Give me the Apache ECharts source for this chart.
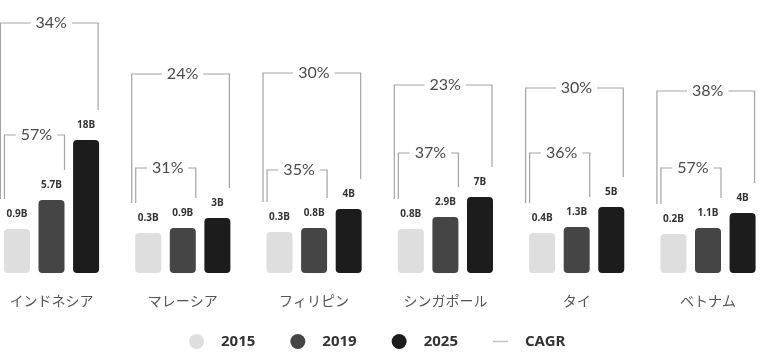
<!DOCTYPE html>
<html>
<head>
<meta charset="utf-8">
<script src="https://cdn.jsdelivr.net/npm/echarts@6/dist/echarts.min.js"></script>
<style>
  html, body { margin: 0; padding: 0; background: #fff; }
  #chart { width: 765px; height: 352px; }
</style>
</head>
<body>
<div id="chart"></div>
<script>
var countries = ['インドネシア', 'マレーシア', 'フィリピン', 'シンガポール', 'タイ', 'ベトナム'];

// market size labels (B)
var val2015 = ['0.9', '0.3', '0.3', '0.8', '0.4', '0.2'];
var val2019 = ['5.7', '0.9', '0.8', '2.9', '1.3', '1.1'];
var val2025 = ['18', '3', '4', '7', '5', '4'];

// bar heights as drawn in the picture (stylised index, not to scale)
var h2015 = [44, 40, 41, 44, 40, 39];
var h2019 = [73, 45, 45, 56, 46, 45];
var h2025 = [133, 55, 64, 76, 66, 60];

// CAGR brackets: 2015->2025 and 2015->2019, with the level each bracket sits at
var cagrLong = ['34%', '24%', '30%', '23%', '30%', '38%'];
var cagrShort = ['57%', '31%', '35%', '37%', '36%', '57%'];
var levelLong = [250, 199, 200, 188, 185, 182];
var levelShort = [138, 105, 103, 120, 120, 105];

var BAR_W = 26;
var BAR_GAP = 0.33;
var LEG_GAP = 30;

function barLabel(vals) {
  return {
    show: true,
    position: 'top',
    distance: 10,
    fontSize: 10,
    fontWeight: 'bold',
    fontFamily: 'Noto Sans',
    color: '#333',
    formatter: function (p) { return vals[p.dataIndex] + 'B'; }
  };
}

function renderBracket(params, api) {
  var i = params.dataIndex;
  var cx = api.coord([api.value(0), 0])[0];
  var step = BAR_W * (1 + BAR_GAP);
  var left1 = cx - (BAR_W * 3 + BAR_W * BAR_GAP * 2) / 2;
  var right2 = left1 + step + BAR_W;
  var right3 = left1 + 2 * step + BAR_W;
  var top1 = api.coord([i, h2015[i]])[1] - LEG_GAP;
  var top2 = api.coord([i, h2019[i]])[1] - LEG_GAP;
  var top3 = api.coord([i, h2025[i]])[1] - LEG_GAP;
  var yLong = api.coord([i, api.value(1)])[1];
  var yShort = api.coord([i, api.value(2)])[1];
  var lineStyle = { stroke: '#a4a4a4', lineWidth: 1.2, fill: null };
  var oL = left1 - 3.5, oR = right3 - 1;
  var iL = left1 + 0.5, iR = right2;
  function txt(t, x, y) {
    return {
      type: 'text',
      z2: 10,
      style: {
        text: t, x: x, y: y, align: 'center', verticalAlign: 'middle',
        fontSize: 16, fontFamily: 'Lato', fill: '#4a4a4a',
        backgroundColor: '#fff', padding: [0, 5]
      }
    };
  }
  return {
    type: 'group',
    children: [
      { type: 'polyline', shape: { points: [[oL, top1], [oL, yLong], [oR, yLong], [oR, top3]] }, style: lineStyle },
      { type: 'polyline', shape: { points: [[iL, top1], [iL, yShort], [iR, yShort], [iR, top2]] }, style: lineStyle },
      txt(cagrLong[i], (oL + oR) / 2 + 2, yLong),
      txt(cagrShort[i], (iL + iR) / 2 + 2, yShort)
    ]
  };
}

var bracketData = countries.map(function (c, i) { return [i, levelLong[i], levelShort[i]]; });

var chart = echarts.init(document.getElementById('chart'));
chart.setOption({
  animation: false,
  backgroundColor: '#fff',
  grid: { left: 51.5, right: 57, top: 13, bottom: 79 },
  legend: {
    left: 184,
    top: 329,
    itemWidth: 15,
    itemHeight: 15,
    itemGap: 35,
    textStyle: { fontSize: 15, fontWeight: 'bold', fontFamily: 'Noto Sans', color: '#333', padding: [0, 0, 0, 12] },
    data: [
      { name: '2015', icon: 'circle' },
      { name: '2019', icon: 'circle' },
      { name: '2025', icon: 'circle' },
      { name: 'CAGR', icon: 'path://M0 0H16V1.6H0Z' }
    ]
  },
  xAxis: {
    type: 'category',
    data: countries,
    boundaryGap: false,
    axisLine: { show: false },
    axisTick: { show: false },
    axisLabel: { margin: 21, fontSize: 14, color: '#555', fontFamily: 'Noto Sans CJK JP' }
  },
  yAxis: { type: 'value', min: 0, max: 260, show: false, splitLine: { show: false } },
  series: [
    { name: '2015', type: 'bar', data: h2015, barWidth: BAR_W, barGap: (BAR_GAP * 100) + '%', clip: false,
      itemStyle: { color: '#dedede', borderRadius: 4 }, label: barLabel(val2015) },
    { name: '2019', type: 'bar', data: h2019, barWidth: BAR_W, clip: false,
      itemStyle: { color: '#454545', borderRadius: 4 }, label: barLabel(val2019) },
    { name: '2025', type: 'bar', data: h2025, barWidth: BAR_W, clip: false,
      itemStyle: { color: '#1c1c1c', borderRadius: 4 }, label: barLabel(val2025) },
    { name: 'CAGR', type: 'custom', data: bracketData, clip: false, z: 5,
      itemStyle: { color: '#c4c4c4' }, renderItem: renderBracket }
  ]
});
</script>
</body>
</html>
